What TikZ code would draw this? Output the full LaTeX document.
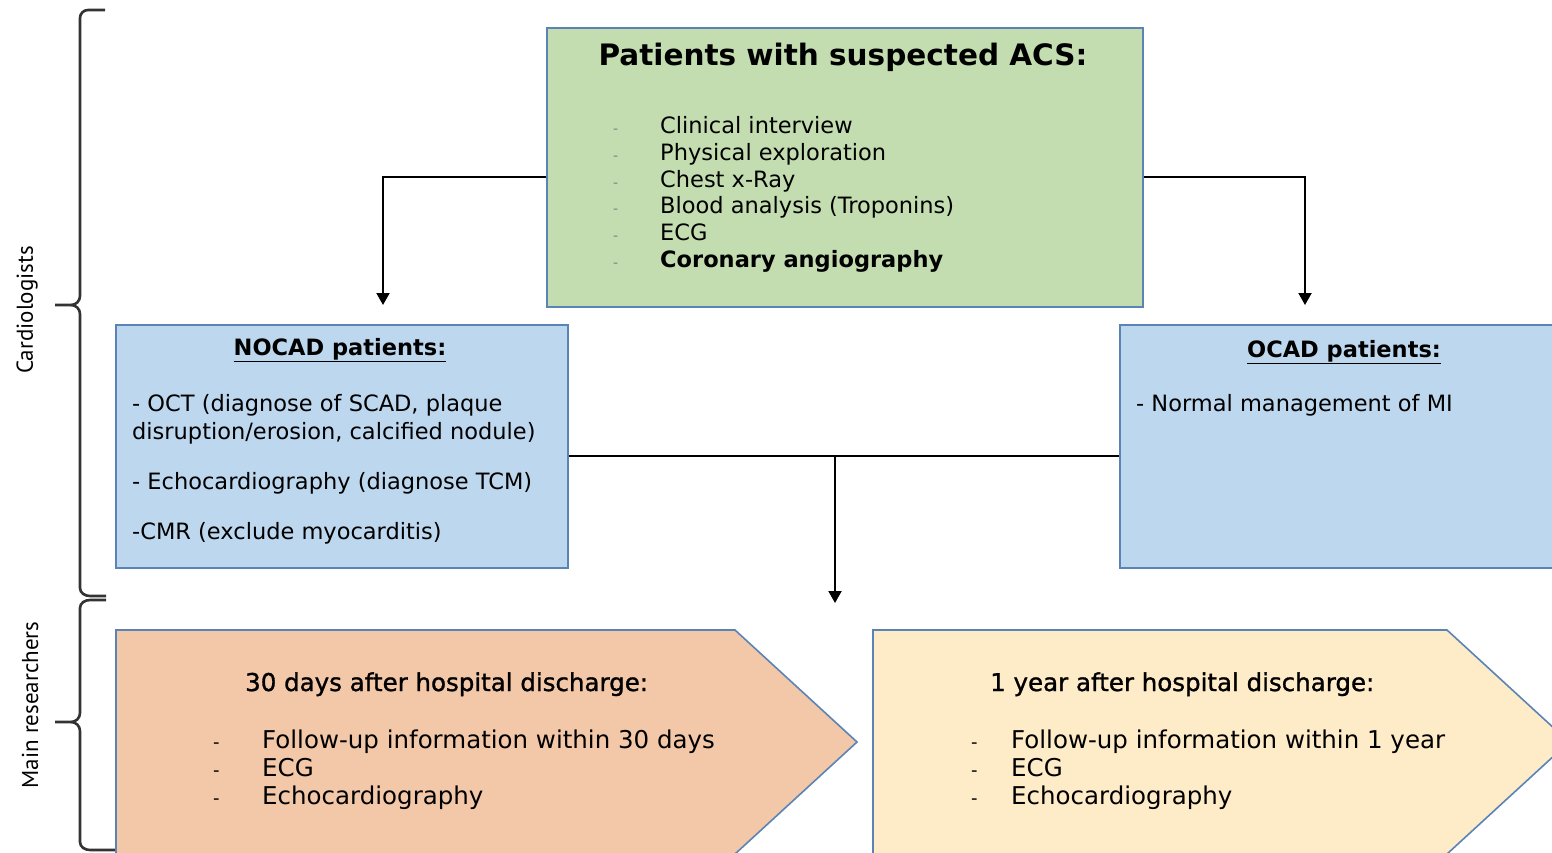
\documentclass[tikz,border=0pt]{standalone}
\usepackage{fontspec}
\setmainfont{DejaVu Sans}
\newfontfamily\bracefont{PT Sans}
\newfontfamily\semib{DejaVu Sans}[BoldFont={DejaVu Sans}, BoldFeatures={FakeBold=1.2}]
\usetikzlibrary{arrows.meta}
\definecolor{gfill}{HTML}{C3DDB1}
\definecolor{bfill}{HTML}{BDD7EE}
\definecolor{pfill}{HTML}{F3C8A8}
\definecolor{yfill}{HTML}{FEEBC8}
\definecolor{bordc}{HTML}{5A84B5}
\definecolor{bracec}{HTML}{333333}
\begin{document}
\begin{tikzpicture}[x=1pt,y=-1pt,
  box/.style={draw=bordc, line width=1.6pt, inner sep=0pt},
  conn/.style={line width=2pt, draw=black},
  arr/.style={conn, -{Triangle[length=12pt,width=13pt]}},
  txt/.style={anchor=base west, inner sep=0pt, font=\fontsize{22.5}{26}\selectfont},
  ptxt/.style={anchor=base west, inner sep=0pt, font=\fontsize{24.5}{28}\selectfont},
  gdash/.style={anchor=base west, inner sep=0pt, text=gray, font=\fontsize{14}{16}\selectfont},
  pdash/.style={anchor=base west, inner sep=0pt, font=\fontsize{18}{20}\selectfont},
  brc/.style={line width=2.6pt, draw=bracec},
  brtxt/.style={rotate=90, inner sep=0pt, text=black, font=\bracefont\fontsize{23}{26}\selectfont}]
\clip (0,0) rectangle (1552,853);
\fill[white] (0,0) rectangle (1552,853);

% braces
\draw[brc] (105,10) -- (88,10) to[out=180,in=90] (80,18) -- (80,296) to[out=-90,in=0] (71,305) -- (55,305);
\draw[brc] (71,305) to[out=0,in=90] (80,314) -- (80,588) to[out=-90,in=180] (90,596) -- (106,596);
\draw[brc] (106,600) -- (90,600) to[out=180,in=90] (80,608) -- (80,713) to[out=-90,in=0] (71,722) -- (55,722);
\draw[brc] (71,722) to[out=0,in=90] (80,731) -- (80,842) to[out=-90,in=180] (90,850) -- (116,850);
\node[brtxt] (card) at (27,310) {Cardiologists};
\node[brtxt] (mainr) at (30,705) {Main researchers};

% boxes
\node[box, fill=gfill, minimum width=596pt, minimum height=279pt] (acs) at (845,167.5) {};
\node[box, fill=bfill, minimum width=452pt, minimum height=243pt] (nocad) at (342,446.5) {};
\node[box, fill=bfill, minimum width=450pt, minimum height=243pt] (ocad) at (1345,446.5) {};

% pentagons
\draw[box, fill=pfill] (116,630) -- (735,630) -- (857,742) -- (735,854) -- (116,854) -- cycle;
\draw[box, fill=yfill] (873,630) -- (1447,630) -- (1569,742) -- (1447,854) -- (873,854) -- cycle;

% connectors
\coordinate (nocadin) at (383,305);
\coordinate (ocadin) at (1305,305);
\coordinate (fu) at (835,603);
\draw[arr] ([yshift=-9.5pt]acs.west) -| (nocadin);
\draw[arr] ([yshift=-9.5pt]acs.east) -| (ocadin);
\draw[conn] ([yshift=-9.5pt]nocad.east) -- ([yshift=-9.5pt]ocad.west);
\draw[arr] ([yshift=-9.5pt]nocad.east -| fu) -- (fu);

% green text
\node[anchor=base, inner sep=0pt, font=\bfseries\fontsize{29.5}{34}\selectfont] (acst) at (843,66) {Patients with suspected ACS:};
\foreach \t [count=\i] in {Clinical interview, Physical exploration, Chest x-Ray, Blood analysis (Troponins), ECG} {
  \node[txt] (g\i) at (660,{134+26.6*(\i-1)}) {\t};
  \node[gdash] (gd\i) at (613,{134+26.6*(\i-1)}) {-};
}
\node[txt, font=\bfseries\fontsize{22.5}{26}\selectfont] (g6) at (660,267) {Coronary angiography};
\node[gdash] (gd6) at (613,267) {-};

% NOCAD text
\node[anchor=base, inner sep=0pt, font=\bfseries\fontsize{22.5}{26}\selectfont] (nocadt) at (340,355) {\underline{NOCAD patients:}};
\node[txt] (n1) at (132,411) {- OCT (diagnose of SCAD, plaque};
\node[txt] (n2) at (132,439) {disruption/erosion, calcified nodule)};
\node[txt] (n3) at (132,489) {- Echocardiography (diagnose TCM)};
\node[txt] (n4) at (132,539) {-CMR (exclude myocarditis)};

% OCAD text
\node[anchor=base, inner sep=0pt, font=\bfseries\fontsize{22.5}{26}\selectfont] (ocadt) at (1344,357) {\underline{OCAD patients:}};
\node[txt] (o1) at (1136,411) {- Normal management of MI};

% peach text
\node[ptxt, font=\semib\bfseries\fontsize{24.5}{28}\selectfont] (pt) at (245,691) {30 days after hospital discharge:};
\foreach \t [count=\i] in {Follow-up information within 30 days, ECG, Echocardiography} {
  \node[ptxt] (p\i) at (262,{748+28*(\i-1)}) {\t};
  \node[pdash] (pd\i) at (213,{748+28*(\i-1)}) {-};
}

% yellow text
\node[ptxt, font=\semib\bfseries\fontsize{24.5}{28}\selectfont] (yt) at (990,691) {1 year after hospital discharge:};
\foreach \t [count=\i] in {Follow-up information within 1 year, ECG, Echocardiography} {
  \node[ptxt] (y\i) at (1011,{748+28*(\i-1)}) {\t};
  \node[pdash] (yd\i) at (971,{748+28*(\i-1)}) {-};
}
\end{tikzpicture}
\end{document}
